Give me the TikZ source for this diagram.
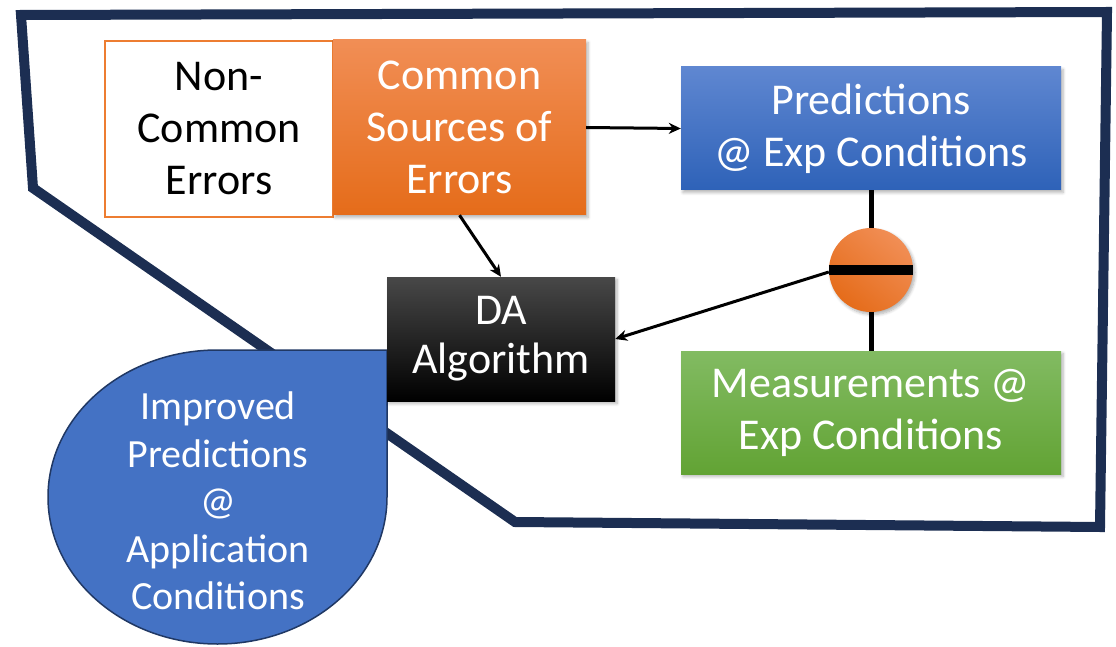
\documentclass[tikz,border=0pt]{standalone}
\usepackage{fontspec}
\setmainfont{Carlito}
\usetikzlibrary{arrows.meta,shadows.blur}

\definecolor{framenavy}{HTML}{1C2E52}
\definecolor{orangeL}{HTML}{F18E55}
\definecolor{orangeD}{HTML}{E56C1A}
\definecolor{orangeLine}{HTML}{ED7D31}
\definecolor{blueL}{HTML}{5F87D1}
\definecolor{blueD}{HTML}{2E62B8}
\definecolor{greenL}{HTML}{82BB62}
\definecolor{greenD}{HTML}{62A334}
\definecolor{dropblue}{HTML}{4472C4}
\definecolor{dropedge}{HTML}{203864}
\definecolor{darkgrey}{HTML}{484848}

\begin{document}
\begin{tikzpicture}[x=1pt,y=-1pt,
  softshadow/.style={blur shadow={shadow xshift=2pt,shadow yshift=-2.5pt,shadow blur steps=6,shadow opacity=30,shadow blur radius=3pt}},
  boxtext/.style={align=center,inner sep=0pt,font=\fontsize{44}{52}\selectfont},
  plainbox/.style={boxtext,draw=orangeLine,line width=2pt,fill=white,text=black},
  srcbox/.style={boxtext,top color=orangeL,bottom color=orangeD,text=white,softshadow},
  predbox/.style={boxtext,top color=blueL,bottom color=blueD,text=white,softshadow},
  measbox/.style={boxtext,top color=greenL,bottom color=greenD,text=white,softshadow},
  algbox/.style={boxtext,top color=darkgrey,middle color=black,bottom color=black,text=white,softshadow,font=\fontsize{44}{49}\selectfont},
  diffnode/.style={circle,inner sep=0pt,minimum size=84pt,top color=orangeL,bottom color=orangeD,shading angle=-40,softshadow},
  droplabel/.style={align=center,inner sep=0pt,text=white,font=\fontsize{40}{47.5}\selectfont},
  arr/.style={line width=3pt,-{Stealth[length=12pt,width=11pt]}},
  link/.style={line width=5pt},
  framestyle/.style={draw=framenavy,line width=10pt,line join=miter}
]
\useasboundingbox (0,0) rectangle (1116,647);

% outer boundary of the domain
\draw[framestyle] (21,15) -- (1107,12) -- (1100,527) -- (515,522) -- (33,188) -- cycle;

% teardrop holding the improved predictions
\draw[fill=dropblue,draw=dropedge,line width=1.5pt]
  (387,350) -- (387,497) arc[start angle=0,end angle=270,x radius=169.5,y radius=147] -- cycle;
\node[droplabel] (improved) at (218,501) {Improved\\Predictions\\@\\Application\\Conditions};

% error sources
\node[plainbox,minimum width=228pt,minimum height=176pt] (noncommon) at (219,129) {Non-\\Common\\Errors};
\node[srcbox,minimum width=253pt,minimum height=175pt] (common) at (459.5,127.5) {Common\\Sources of\\Errors};

% predictions and measurements
\node[predbox,minimum width=380pt,minimum height=123pt] (pred) at (871,128.5) {Predictions\\@ Exp Conditions};
\node[measbox,minimum width=380pt,minimum height=123pt] (meas) at (871,412.5) {Measurements @\\Exp Conditions};

% data assimilation
\node[algbox,minimum width=228pt,minimum height=124pt] (da) at (501,339) {DA\\Algorithm};

% comparison node
\node[diffnode] (diff) at (871,270) {};
\draw[line width=10pt] (diff.west) -- (diff.east);

% connectors
\draw[link] (pred.south) -- (diff.north);
\draw[link] (diff.south) -- (meas.north);
\draw[arr] (common.east) -- (pred.west);
\draw[arr] (common.south) -- (da.north);
\draw[arr] ([yshift=-2pt]diff.west) -- (da.east);
\end{tikzpicture}
\end{document}
